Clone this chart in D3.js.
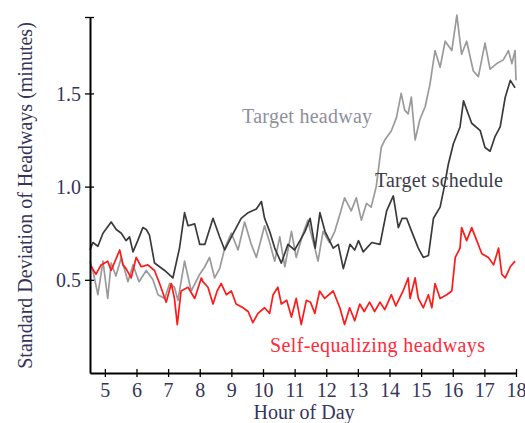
<!DOCTYPE html>
<html>
<head>
<meta charset="utf-8">
<script src="https://cdn.jsdelivr.net/npm/d3@7"></script>
<style>
    body { margin: 0; background: #fff; }
    text { font-family: "Liberation Serif", "Times New Roman", serif; }
</style>
</head>
<body>
<div id="chart"></div>
<script>

// Hour of day ticks and y ticks
const xTicks = [5, 6, 7, 8, 9, 10, 11, 12, 13, 14, 15, 16, 17, 18];
const yTicks = [0.5, 1.0, 1.5];

// [hour, std dev of headways (minutes)]
const targetHeadway = [
    [4.53, 0.60], [4.62, 0.55], [4.78, 0.42], [4.94, 0.60], [5.09, 0.40], [5.20, 0.59],
    [5.35, 0.52], [5.52, 0.62], [5.73, 0.49], [5.89, 0.58], [6.08, 0.49], [6.31, 0.55],
    [6.52, 0.50], [6.68, 0.42], [6.89, 0.40], [7.05, 0.48], [7.20, 0.46], [7.31, 0.39],
    [7.52, 0.60], [7.73, 0.44], [8.00, 0.53], [8.16, 0.57], [8.31, 0.62], [8.47, 0.51],
    [8.63, 0.56], [8.79, 0.67], [9.00, 0.75], [9.21, 0.66], [9.42, 0.81], [9.63, 0.69],
    [9.79, 0.62], [10.05, 0.79], [10.21, 0.70], [10.37, 0.60], [10.53, 0.73], [10.69, 0.57],
    [10.90, 0.76], [11.05, 0.62], [11.25, 0.74], [11.42, 0.82], [11.50, 0.76], [11.64, 0.67],
    [11.74, 0.60], [11.90, 0.76], [12.10, 0.70], [12.27, 0.76], [12.43, 0.85], [12.58, 0.94],
    [12.79, 0.87], [12.95, 0.94], [13.11, 0.82], [13.27, 0.91], [13.42, 0.89], [13.58, 1.00],
    [13.74, 1.21], [13.85, 1.25], [14.06, 1.30], [14.22, 1.37], [14.37, 1.50], [14.48, 1.41],
    [14.59, 1.39], [14.69, 1.48], [14.81, 1.25], [14.96, 1.36], [15.13, 1.43], [15.28, 1.55],
    [15.44, 1.73], [15.60, 1.64], [15.76, 1.78], [15.97, 1.73], [16.13, 1.92], [16.28, 1.71],
    [16.44, 1.78], [16.65, 1.62], [16.81, 1.59], [17.02, 1.77], [17.18, 1.63], [17.39, 1.66],
    [17.60, 1.68], [17.76, 1.73], [17.87, 1.66], [17.97, 1.73], [18.00, 1.57]
];

const targetSchedule = [
    [4.53, 0.66], [4.62, 0.70], [4.78, 0.68], [4.94, 0.75], [5.20, 0.81], [5.36, 0.77],
    [5.52, 0.75], [5.67, 0.71], [5.78, 0.73], [5.89, 0.65], [6.04, 0.71], [6.20, 0.78],
    [6.31, 0.77], [6.41, 0.74], [6.57, 0.59], [6.89, 0.55], [7.15, 0.51], [7.36, 0.67],
    [7.52, 0.86], [7.63, 0.79], [7.84, 0.80], [8.00, 0.69], [8.16, 0.69], [8.42, 0.83],
    [8.63, 0.73], [8.79, 0.66], [9.00, 0.73], [9.31, 0.83], [9.53, 0.86], [9.79, 0.88],
    [9.95, 0.92], [10.05, 0.83], [10.21, 0.76], [10.37, 0.67], [10.58, 0.59], [10.79, 0.69],
    [11.00, 0.66], [11.17, 0.71], [11.33, 0.76], [11.49, 0.83], [11.65, 0.67], [11.80, 0.86],
    [11.96, 0.76], [12.22, 0.67], [12.38, 0.69], [12.54, 0.56], [12.75, 0.69], [12.90, 0.66],
    [13.02, 0.71], [13.17, 0.65], [13.44, 0.70], [13.70, 0.69], [13.91, 0.87], [14.12, 0.95],
    [14.28, 0.78], [14.40, 0.83], [14.54, 0.83], [14.70, 0.76], [14.91, 0.67], [15.07, 0.62],
    [15.23, 0.63], [15.39, 0.83], [15.60, 0.89], [15.71, 0.98], [15.86, 1.12], [16.02, 1.23],
    [16.23, 1.32], [16.34, 1.46], [16.49, 1.39], [16.60, 1.34], [16.87, 1.30], [17.02, 1.21],
    [17.18, 1.19], [17.34, 1.27], [17.50, 1.32], [17.66, 1.48], [17.82, 1.57], [17.97, 1.53]
];

const selfEqualizing = [
    [4.53, 0.57], [4.57, 0.57], [4.72, 0.53], [4.88, 0.58], [5.09, 0.60], [5.20, 0.55],
    [5.47, 0.66], [5.57, 0.58], [5.67, 0.56], [5.83, 0.51], [5.99, 0.62], [6.15, 0.57],
    [6.36, 0.58], [6.57, 0.55], [6.73, 0.48], [6.94, 0.38], [7.10, 0.48], [7.20, 0.40],
    [7.29, 0.26], [7.41, 0.44], [7.63, 0.46], [7.84, 0.40], [8.05, 0.51], [8.10, 0.49],
    [8.26, 0.46], [8.42, 0.37], [8.55, 0.44], [8.68, 0.48], [8.84, 0.42], [9.00, 0.44],
    [9.15, 0.37], [9.37, 0.35], [9.53, 0.33], [9.68, 0.27], [9.84, 0.32], [10.05, 0.35],
    [10.21, 0.32], [10.32, 0.42], [10.47, 0.46], [10.58, 0.37], [10.75, 0.39], [10.90, 0.30],
    [11.05, 0.40], [11.21, 0.26], [11.37, 0.39], [11.50, 0.38], [11.64, 0.32], [11.79, 0.44],
    [11.95, 0.40], [12.22, 0.44], [12.43, 0.35], [12.58, 0.26], [12.74, 0.35], [12.90, 0.28],
    [13.06, 0.37], [13.20, 0.33], [13.37, 0.38], [13.53, 0.33], [13.70, 0.38], [13.85, 0.34],
    [14.06, 0.42], [14.20, 0.36], [14.43, 0.44], [14.59, 0.51], [14.65, 0.40], [14.81, 0.51],
    [14.91, 0.40], [15.07, 0.35], [15.23, 0.42], [15.34, 0.35], [15.44, 0.48], [15.60, 0.40],
    [15.81, 0.42], [15.97, 0.44], [16.08, 0.62], [16.23, 0.67], [16.28, 0.78], [16.44, 0.71],
    [16.60, 0.78], [16.76, 0.71], [16.92, 0.64], [17.13, 0.62], [17.29, 0.58], [17.45, 0.67],
    [17.55, 0.53], [17.66, 0.51], [17.82, 0.57], [17.97, 0.60]
];

const seriesNames = ["Target headway", "Target schedule", "Self-equalizing headways"];
const seriesColors = ["#9a9a9a", "#3a3a3a", "#ff1a1a"];
const labelColors = ["#8f8f9c", "#3c3c4c", "#ff2a3a"];

// Drawing area
const margin = {top: 17, right: 9, bottom: 51, left: 90};
const totalW = 525, totalH = 423;
const width = totalW - margin.left - margin.right;
const height = totalH - margin.top - margin.bottom;

const svg = d3.select("#chart").append("svg")
    .attr("width", totalW)
    .attr("height", totalH)
    .append("g")
    .attr("transform", `translate(${margin.left}, ${margin.top})`);

// Scales
const x = d3.scaleLinear()
    .domain([4.53, 18])
    .range([0, width]);
const y = d3.scaleLinear()
    .domain([0, 1.91])
    .range([height + 1, 0]);

// Lines
const line = d3.line()
    .x(d => x(d[0]))
    .y(d => y(d[1]));

[targetHeadway, targetSchedule, selfEqualizing].forEach((s, i) => {
    svg.append("path")
        .datum(s)
        .attr("fill", "none")
        .attr("stroke", seriesColors[i])
        .attr("stroke-width", 1.7)
        .attr("stroke-linejoin", "round")
        .attr("d", line);
});

// Axes
const xAxis = d3.axisBottom(x)
    .tickValues(xTicks)
    .tickSize(4)
    .tickSizeOuter(0)
    .tickFormat(d3.format("d"));
const gx = svg.append("g")
    .attr("transform", `translate(0, ${height + 1})`)
    .call(xAxis);

const yAxis = d3.axisLeft(y)
    .tickValues(yTicks.concat([1.91]))
    .tickSize(5)
    .tickSizeOuter(0)
    .tickFormat(d => d > 1.9 ? "" : d3.format(".1f")(d));
const gy = svg.append("g").call(yAxis);

// Axis styling (ticks cross the axis line)
[gx, gy].forEach(g => {
    g.select(".domain").attr("stroke", "#000").attr("stroke-width", 2);
    g.selectAll(".tick line").attr("stroke", "#000").attr("stroke-width", 1.3);
    g.selectAll(".tick text")
        .attr("fill", "#35355a")
        .style("font-size", "20px")
        .style("font-family", "'Liberation Serif', serif");
});
gx.selectAll(".tick line").attr("y1", -4).attr("y2", 4);
gx.selectAll(".tick text").attr("y", 10);
gy.selectAll(".tick line").attr("x1", -5).attr("x2", 4);
gy.selectAll(".tick text").attr("x", -9).attr("dy", "0.35em");

// Axis titles
svg.append("text")
    .attr("x", 214)
    .attr("y", height + 47)
    .attr("text-anchor", "middle")
    .attr("fill", "#35355a")
    .style("font-size", "20px")
    .text("Hour of Day");

svg.append("text")
    .attr("transform", `translate(${-58}, ${height / 2 + 1}) rotate(-90)`)
    .attr("text-anchor", "middle")
    .attr("fill", "#35355a")
    .style("font-size", "20px")
    .text("Standard Deviation of Headways (minutes)");

// Series labels
const labelPos = [[9.34, 1.34], [13.54, 1.00], [10.22, 0.11]];
const labelWidths = [130, 128, 215];
seriesNames.forEach((name, i) => {
    svg.append("text")
        .attr("x", x(labelPos[i][0]))
        .attr("y", y(labelPos[i][1]))
        .attr("fill", labelColors[i])
        .attr("textLength", labelWidths[i])
        .attr("lengthAdjust", "spacing")
        .style("font-size", "20px")
        .text(name);
});

</script>
</body>
</html>
